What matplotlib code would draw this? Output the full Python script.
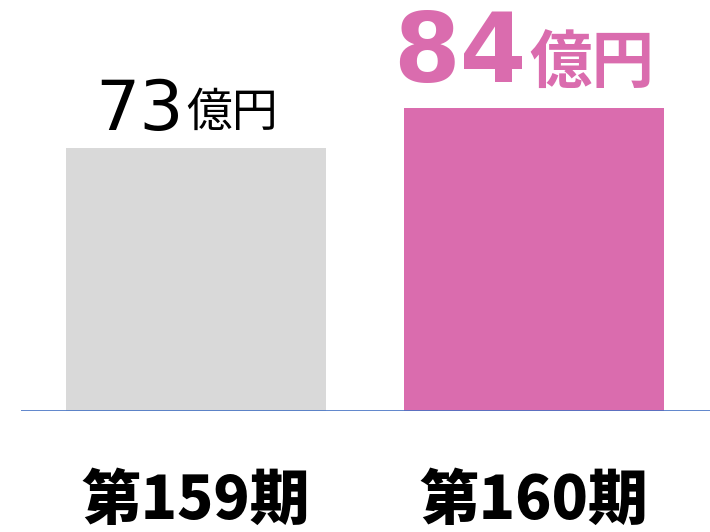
import matplotlib.pyplot as plt

periods = ['第159期', '第160期']
sales = [73, 84]
unit = '億円'
bar_colors = ['#D9D9D9', '#DA6CAE']
label_colors = ['#000000', '#DA6CAE']

fig = plt.figure(figsize=(7.1, 5.32), dpi=100)
ax = fig.add_axes([21 / 710, 121 / 532, 689 / 710, 411 / 532])

x = range(len(periods))
ax.bar(x, sales, width=0.77, color=bar_colors, zorder=2)
ax.set_xlim(-0.518, 1.521)
ax.set_ylim(0, 411 / (303 / 84))

ax.axhline(0, color='#4472C4', lw=1.2, zorder=3)
for s in ax.spines.values():
    s.set_visible(False)
ax.set_xticks([])
ax.set_yticks([])

# value labels: number + unit as separate texts
num_style = [dict(fontsize=50, fontweight='normal'), dict(fontsize=69, fontweight='bold')]
unit_style = [dict(fontsize=33, fontweight='normal'), dict(fontsize=45, fontweight='bold')]
split = [-12, -7]
lift_num = [18, 26]
lift_unit = [22, 25]
for i, v in enumerate(sales):
    ax.annotate(str(v), (i, v), xytext=(split[i], lift_num[i]), textcoords='offset pixels',
                ha='right', va='baseline', color=label_colors[i],
                family='DejaVu Sans', **num_style[i])
    ax.annotate(unit, (i, v), xytext=(split[i] + 2, lift_unit[i]), textcoords='offset pixels',
                ha='left', va='baseline', color=label_colors[i],
                family=['Noto Sans CJK JP', 'DejaVu Sans'], **unit_style[i])

# period labels under the axis
for i, p in enumerate(periods):
    ax.annotate(p, (i, 0), xytext=(0, -90), textcoords='offset pixels',
                ha='center', va='center', fontsize=43, fontweight='black',
                family=['Noto Sans CJK JP', 'DejaVu Sans'], color='black')

fig.savefig('out.png', dpi=100)
